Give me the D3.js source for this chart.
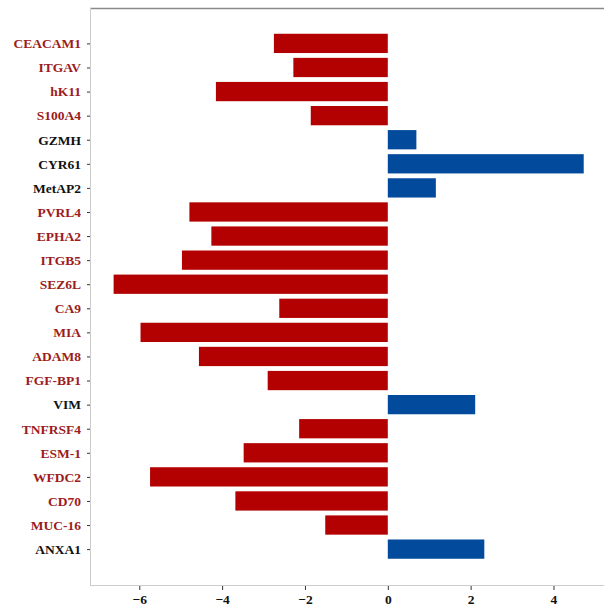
<!DOCTYPE html>
<html>
<head>
<meta charset="utf-8">
<script src="https://cdn.jsdelivr.net/npm/d3@7"></script>
<style>
  body { margin: 0; background: #fff; }
  svg text { font-family: "Liberation Serif", "Times New Roman", serif; font-weight: bold; }
</style>
</head>
<body>
<div id="chart"></div>
<script>
// Gene labels, top to bottom
const genes = ["CEACAM1", "ITGAV", "hK11", "S100A4", "GZMH", "CYR61", "MetAP2",
    "PVRL4", "EPHA2", "ITGB5", "SEZ6L", "CA9", "MIA", "ADAM8", "FGF-BP1", "VIM",
    "TNFRSF4", "ESM-1", "WFDC2", "CD70", "MUC-16", "ANXA1"];

// Bar values
const values = [-2.75, -2.28, -4.15, -1.86, 0.69, 4.73, 1.16,
    -4.79, -4.26, -4.97, -6.62, -2.62, -5.97, -4.56, -2.90, 2.11,
    -2.14, -3.48, -5.74, -3.68, -1.51, 2.33];

const xTicks = [-6, -4, -2, 0, 2, 4];

const data = genes.map(function(g, i) {
    return {gene: g, value: values[i], i: i};
});

const width = 604;
const height = 607;
const margin = {top: 8, left: 90, right: 0, bottom: 22};

const svg = d3.select("#chart")
    .append("svg")
    .attr("width", width)
    .attr("height", height);

const xScale = d3.scaleLinear()
    .domain([-7.19, 5.22])
    .range([margin.left, width - margin.right]);

const yScale = d3.scaleLinear()
    .domain([-1.47, 22.49])
    .range([margin.top, height - margin.bottom]);

const barH = 0.8 * (yScale(1) - yScale(0));

svg.selectAll("rect.bar")
    .data(data)
    .enter()
    .append("rect")
        .attr("class", "bar")
        .attr("x", function(d) { return xScale(Math.min(0, d.value)); })
        .attr("y", function(d) { return yScale(d.i) - barH / 2; })
        .attr("width", function(d) { return Math.abs(xScale(d.value) - xScale(0)); })
        .attr("height", barH)
        .attr("fill", function(d) { return d.value < 0 ? "#b30000" : "#014a9c"; });

// Frame
const x0 = margin.left, x1 = width - margin.right;
const y0 = margin.top, y1 = height - margin.bottom;
svg.append("line").attr("x1", x0).attr("x2", x1).attr("y1", y0 + 0.5).attr("y2", y0 + 0.5)
    .attr("stroke", "#8a8a8a").attr("stroke-width", 1.5);
svg.append("line").attr("x1", x0 + 0.5).attr("x2", x0 + 0.5).attr("y1", y0).attr("y2", y1)
    .attr("stroke", "#cccccc").attr("stroke-width", 1);
svg.append("line").attr("x1", x0).attr("x2", x1).attr("y1", y1 + 0.5).attr("y2", y1 + 0.5)
    .attr("stroke", "#cccccc").attr("stroke-width", 1);

// X axis
const xAxis = svg.append("g")
    .attr("transform", `translate(0,${y1 + 1})`)
    .call(d3.axisBottom(xScale)
        .tickValues(xTicks)
        .tickSize(4)
        .tickPadding(4)
        .tickFormat(function(d) { return d < 0 ? "\u2212" + Math.abs(d) : d; }));
xAxis.select(".domain").remove();
xAxis.selectAll(".tick line").attr("stroke", "#333");
xAxis.selectAll("text").attr("font-size", "13.5px").attr("fill", "#111");

// Y axis
const yAxis = svg.append("g")
    .attr("transform", `translate(${x0},0)`)
    .call(d3.axisLeft(yScale)
        .tickValues(d3.range(genes.length))
        .tickSize(3)
        .tickPadding(6)
        .tickFormat(function(i) { return genes[i]; }));
yAxis.select(".domain").remove();
yAxis.selectAll(".tick line").attr("stroke", "#333");
yAxis.selectAll("text")
    .attr("font-size", "13.5px")
    .attr("fill", function(i) { return values[i] < 0 ? "#9c1c1c" : "#111"; });
</script>
</body>
</html>
